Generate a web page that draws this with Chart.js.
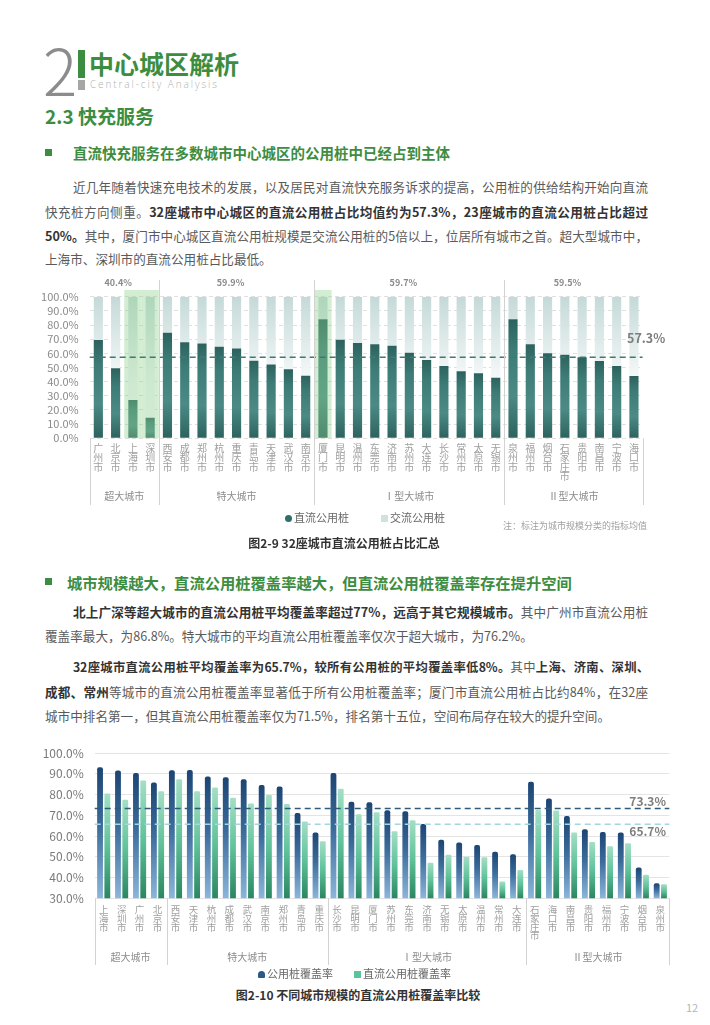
<!DOCTYPE html>
<html lang="zh-CN">
<head>
<meta charset="utf-8">
<title>中心城区解析 - 2.3 快充服务</title>
<script src="https://cdn.jsdelivr.net/npm/chart.js@4.4.1/dist/chart.umd.min.js"></script>
<style>
  html, body { margin: 0; padding: 0; background: #fff; }
  body { width: 710px; height: 1025px; position: relative; overflow: hidden;
         font-family: "Noto Sans CJK SC", "Noto Sans", sans-serif; color: #5a5a5a; }
  .abs { position: absolute; white-space: nowrap; }
  .line { position: absolute; font-size: 12.6px; line-height: 20px; height: 20px;
          text-align: justify; text-align-last: justify; }
  .line.last { text-align-last: left; }
  .line.tight { font-size: 12.3px; letter-spacing: -0.15px; }
  .line b { color: #333; font-weight: 700; }
  .green { color: #3d8d41; font-weight: 700; }
  .bullet { position: absolute; width: 7px; height: 7px; background: #3d8d41; }
  .caption { position: absolute; left: 0; width: 710px; text-align: center; font-size: 12px;
             font-weight: 700; color: #333; line-height: 16px; }
  .legend { position: absolute; font-size: 11px; color: #666; line-height: 14px; white-space: nowrap; }
  .legend i { display: inline-block; width: 7px; height: 7px; margin-right: 2px; vertical-align: 0; }
</style>
</head>
<body>

<!-- page header -->
<div class="abs" style="left:43px;top:28px;font-size:64px;line-height:80px;font-weight:200;color:#8c8c8c;">2</div>
<div class="abs" style="left:78px;top:50px;width:7px;height:28px;background:#3d8d41;"></div>
<div class="abs" style="left:78px;top:80px;width:7px;height:10px;background:#a6a6a6;"></div>
<div class="abs green" style="left:89px;top:46px;font-size:25px;line-height:34px;">中心城区解析</div>
<div class="abs" style="left:90px;top:77px;font-size:10px;line-height:14px;letter-spacing:1.9px;color:#b0b0b0;font-family:'Open Sans',sans-serif;font-weight:300;">Central-city Analysis</div>

<div class="abs green" style="left:45px;top:103px;font-size:19px;line-height:26px;">2.3 快充服务</div>

<div class="bullet" style="left:45px;top:149px;"></div>
<div class="abs green" style="left:73px;top:143px;font-size:14.5px;line-height:20px;">直流快充服务在多数城市中心城区的公用桩中已经占到主体</div>

<div class="line" style="left:73px;top:177px;width:575px;">近几年随着快速充电技术的发展，以及居民对直流快充服务诉求的提高，公用桩的供给结构开始向直流</div>
<div class="line" style="left:45px;top:202px;width:603px;">快充桩方向侧重。<b>32座城市中心城区的直流公用桩占比均值约为57.3%，23座城市的直流公用桩占比超过</b></div>
<div class="line" style="left:45px;top:226px;width:603px;"><b>50%。</b>其中，厦门市中心城区直流公用桩规模是交流公用桩的5倍以上，位居所有城市之首。超大型城市中，</div>
<div class="line last" style="left:45px;top:249px;width:603px;">上海市、深圳市的直流公用桩占比最低。</div>

<!-- chart 2-9 -->
<div class="abs" style="left:30px;top:270px;width:670px;height:270px;"><canvas id="shareChart"></canvas></div>
<div class="legend" style="left:285px;top:510px;"><i style="background:#2f6f6a;border-radius:50%;"></i>直流公用桩</div>
<div class="legend" style="left:381px;top:510px;"><i style="background:#cfe2df;"></i>交流公用桩</div>
<div class="abs" style="left:503px;top:520px;font-size:9px;line-height:12px;color:#a0a0a0;">注：标注为城市规模分类的指标均值</div>
<div class="caption" style="top:535px;left:-11px;">图2-9 32座城市直流公用桩占比汇总</div>

<div class="bullet" style="left:45px;top:578px;"></div>
<div class="abs green" style="left:67px;top:572px;font-size:15.3px;line-height:20px;">城市规模越大，直流公用桩覆盖率越大，但直流公用桩覆盖率存在提升空间</div>

<div class="line" style="left:73px;top:602px;width:575px;"><b>北上广深等超大城市的直流公用桩平均覆盖率超过77%，远高于其它规模城市。</b>其中广州市直流公用桩</div>
<div class="line last" style="left:45px;top:626px;width:603px;">覆盖率最大，为86.8%。特大城市的平均直流公用桩覆盖率仅次于超大城市，为76.2%。</div>
<div class="line tight" style="left:73px;top:657px;width:576px;"><b>32座城市直流公用桩平均覆盖率为65.7%，较所有公用桩的平均覆盖率低8%。</b>其中<b>上海、济南、深圳、</b></div>
<div class="line" style="left:45px;top:682px;width:603px;"><b>成都、常州</b>等城市的直流公用桩覆盖率显著低于所有公用桩覆盖率；厦门市直流公用桩占比约84%，在32座</div>
<div class="line last" style="left:45px;top:706px;width:603px;">城市中排名第一，但其直流公用桩覆盖率仅为71.5%，排名第十五位，空间布局存在较大的提升空间。</div>

<!-- chart 2-10 -->
<div class="abs" style="left:30px;top:735px;width:670px;height:235px;"><canvas id="coverChart"></canvas></div>
<div class="legend" style="left:258px;top:966px;"><i style="background:#2a5a86;border-radius:50% 50% 1px 1px;"></i>公用桩覆盖率</div>
<div class="legend" style="left:354px;top:966px;"><i style="background:#5cc49a;"></i>直流公用桩覆盖率</div>
<div class="caption" style="top:987px;left:3px;">图2-10 不同城市规模的直流公用桩覆盖率比较</div>
<div class="abs" style="left:686px;top:1000px;font-size:11px;line-height:14px;color:#b5b5b5;">12</div>

<script>
// ---- chart 2-9: 直流 / 交流 公用桩占比 ----
const cities1 = ['广州市', '北京市', '上海市', '深圳市',
  '西安市', '成都市', '郑州市', '杭州市', '重庆市', '青岛市', '天津市', '武汉市', '南京市',
  '厦门市', '昆明市', '温州市', '东莞市', '济南市', '苏州市', '大连市', '长沙市', '常州市', '太原市', '无锡市',
  '泉州市', '福州市', '烟台市', '石家庄市', '贵阳市', '南昌市', '宁波市', '海口市'];
const dcShare = [69.4, 49.4, 27.0, 14.6,
  74.6, 67.8, 67.0, 64.7, 63.5, 54.8, 52.2, 48.7, 44.2,
  84.0, 69.6, 67.3, 66.4, 65.4, 60.5, 55.3, 51.0, 47.3, 45.9, 42.8,
  84.0, 66.4, 60.0, 59.0, 57.2, 54.6, 51.0, 44.0];
const acShare = [30.6, 50.6, 73.0, 85.4,
  25.4, 32.2, 33.0, 35.3, 36.5, 45.2, 47.8, 51.3, 55.8,
  16.0, 30.4, 32.7, 33.6, 34.6, 39.5, 44.7, 49.0, 52.7, 54.1, 57.2,
  16.0, 33.6, 40.0, 41.0, 42.8, 45.4, 49.0, 56.0];
const groupNames = ['超大城市', '特大城市', 'Ⅰ型大城市', 'Ⅱ型大城市'];
const groupSizes = [4, 9, 11, 8];
const groupAvg1 = ['40.4%', '59.9%', '59.7%', '59.5%'];
const avgDc1 = 57.3;
const highlight1 = [2, 3, 13];

// ---- chart 2-10: 覆盖率 ----
const cities2 = ['上海市', '深圳市', '广州市', '北京市',
  '西安市', '天津市', '杭州市', '成都市', '武汉市', '南京市', '郑州市', '青岛市', '重庆市',
  '长沙市', '昆明市', '厦门市', '苏州市', '东莞市', '济南市', '无锡市', '太原市', '温州市', '常州市', '大连市',
  '石家庄市', '海口市', '南昌市', '贵阳市', '福州市', '宁波市', '烟台市', '泉州市'];
const pubCover = [93.2, 91.6, 90.4, 85.9,
  91.8, 91.9, 88.7, 88.4, 87.4, 84.6, 83.9, 71.1, 61.8,
  90.4, 76.6, 76.3, 72.5, 72.0, 65.9, 58.3, 56.9, 55.7, 52.4, 51.2,
  86.2, 78.2, 69.7, 63.3, 62.0, 61.7, 44.8, 37.3];
const dcCover = [80.5, 77.5, 86.8, 81.6,
  87.4, 81.6, 83.4, 78.5, 75.7, 79.8, 75.5, 67.1, 57.5,
  82.8, 70.5, 71.5, 62.4, 67.7, 47.2, 51.0, 50.1, 49.8, 38.1, 43.7,
  72.6, 72.3, 61.7, 57.2, 55.1, 56.5, 41.4, 36.8];
const avgPub2 = 73.3;
const avgDc2 = 65.7;

const FONT = '"Noto Sans CJK SC", "Noto Sans", sans-serif';
const pct = v => v.toFixed(1) + '%';

// gradient running from the bar's base up to its own top
function barGradient(stops) {
  return (c) => {
    const { chart, dataIndex, dataset } = c;
    const { ctx, chartArea, scales } = chart;
    if (!chartArea || dataIndex === undefined) return stops[stops.length - 1][1];
    const top = scales.y.getPixelForValue(dataset.data[dataIndex]);
    const g = ctx.createLinearGradient(0, chartArea.bottom, 0, Math.min(top, chartArea.bottom - 1));
    stops.forEach(([o, col]) => g.addColorStop(o, col));
    return g;
  };
}

function areaGradient(stops) {
  return (c) => {
    const { ctx, chartArea } = c.chart;
    if (!chartArea) return stops[stops.length - 1][1];
    const g = ctx.createLinearGradient(0, chartArea.bottom, 0, chartArea.top);
    stops.forEach(([o, col]) => g.addColorStop(o, col));
    return g;
  };
}

// highlight columns, average lines, group separators and group names
const groupsPlugin = {
  id: 'groups',
  afterDatasetsDraw(chart, args, o) {
    const { ctx, chartArea: a, scales: { x, y } } = chart;
    const half = (x.getPixelForValue(1) - x.getPixelForValue(0)) / 2;
    ctx.save();

    (o.highlight || []).forEach(i => {
      ctx.fillStyle = 'rgba(140,208,140,0.38)';
      ctx.fillRect(x.getPixelForValue(i) - half, o.hlTop, half * 2, a.bottom - o.hlTop);
    });

    (o.lines || []).forEach(l => {
      const py = y.getPixelForValue(l.value);
      ctx.strokeStyle = l.color;
      ctx.lineWidth = 1.5;
      ctx.setLineDash([6, 4]);
      ctx.beginPath(); ctx.moveTo(a.left, py); ctx.lineTo(a.right, py); ctx.stroke();
      ctx.setLineDash([]);
      ctx.fillStyle = '#7d7d7d';
      ctx.font = `bold ${l.size}px ${FONT}`;
      ctx.textAlign = l.align;
      ctx.textBaseline = 'middle';
      ctx.fillText(pct(l.value), l.x, py + l.dy);
    });

    ctx.strokeStyle = '#d2d2d2';
    ctx.lineWidth = 1;
    ctx.textAlign = 'center';
    ctx.textBaseline = 'middle';
    let start = 0;
    const edges = [];
    o.sizes.forEach((n, gi) => {
      const left = x.getPixelForValue(start) - half;
      const right = x.getPixelForValue(start + n - 1) + half;
      ctx.fillStyle = '#8c8c8c';
      ctx.font = `${o.labelSize}px ${FONT}`;
      ctx.fillText(o.names[gi], (left + right) / 2, o.labelY);
      if (o.avgs) {
        ctx.fillStyle = '#8a8a8a';
        ctx.font = `bold 9px ${FONT}`;
        ctx.fillText(o.avgs[gi], (left + right) / 2 - 6, o.avgY);
      }
      edges.push(left);
      if (gi === o.sizes.length - 1) edges.push(right);
      start += n;
    });
    edges.forEach((ex, i) => {
      const inner = i > 0 && i < edges.length - 1;
      const top = inner && o.sepTop != null ? o.sepTop : a.bottom;
      const px = Math.round(ex) + 0.5;
      ctx.beginPath(); ctx.moveTo(px, top); ctx.lineTo(px, o.lineBottom); ctx.stroke();
    });
    ctx.restore();
  }
};

new Chart(document.getElementById('shareChart'), {
  type: 'bar',
  plugins: [groupsPlugin],
  data: {
    labels: cities1,
    datasets: [
      { label: '直流公用桩', data: dcShare,
        backgroundColor: barGradient([[0, '#2d625e'], [0.35, '#4b8a85'], [0.75, '#3d7b76'], [1, '#2c625e']]) },
      { label: '交流公用桩', data: acShare,
        backgroundColor: areaGradient([[0, '#ffffff'], [0.45, '#f3f7f7'], [1, '#c4dad8']]) },
    ],
  },
  options: {
    responsive: true, maintainAspectRatio: false, animation: false,
    layout: { padding: { top: 26.7, right: 57.4, left: 0, bottom: 0 } },
    datasets: { bar: { categoryPercentage: 1, barPercentage: 0.53 } },
    scales: {
      x: {
        stacked: true,
        grid: { display: false, drawTicks: false },
        border: { display: false },
        ticks: { autoSkip: false, maxRotation: 0, padding: 5, color: '#a0a0a0',
                 font: { family: FONT, size: 10, lineHeight: 0.95 },
                 callback: (v, i) => cities1[i].split('') },
        afterFit: s => { s.height = 101.7; },
      },
      y: {
        stacked: true, min: 0, max: 100,
        grid: { color: '#e0e0e0', drawTicks: false },
        border: { display: false, dash: [4, 3] },
        ticks: { autoSkip: false, stepSize: 10, padding: 11, color: '#8a8a8a',
                 font: { family: FONT, size: 11 }, callback: v => pct(v) },
        afterFit: s => { s.width = 59.7; },
      },
    },
    plugins: {
      legend: { display: false },
      tooltip: { enabled: false },
      groups: {
        names: groupNames, sizes: groupSizes, avgs: groupAvg1, avgY: 13,
        labelY: 226, labelSize: 10, lineBottom: 235, sepTop: 10,
        highlight: highlight1, hlTop: 20,
        lines: [{ value: avgDc1, color: '#3e7a70', x: 597, dy: -19, align: 'left', size: 12.5 }],
      },
    },
  },
});

new Chart(document.getElementById('coverChart'), {
  type: 'bar',
  plugins: [groupsPlugin],
  data: {
    labels: cities2,
    datasets: [
      { label: '公用桩覆盖率', data: pubCover, borderRadius: 2, borderSkipped: 'bottom',
        backgroundColor: barGradient([[0, '#8cb6da'], [0.55, '#3b6c9c'], [1, '#1c4573']]) },
      { label: '直流公用桩覆盖率', data: dcCover, borderRadius: 1, borderSkipped: 'bottom',
        backgroundColor: barGradient([[0, '#2a8660'], [0.5, '#5fc29a'], [1, '#a4dfc6']]) },
    ],
  },
  options: {
    responsive: true, maintainAspectRatio: false, animation: false,
    layout: { padding: { top: 10, right: 30.7, left: 0, bottom: 0 } },
    datasets: { bar: { categoryPercentage: 0.81, barPercentage: 0.8 } },
    scales: {
      x: {
        grid: { display: false, drawTicks: false },
        border: { display: false },
        ticks: { autoSkip: false, maxRotation: 0, padding: 7, color: '#a0a0a0',
                 font: { family: FONT, size: 9.5, lineHeight: 0.92 },
                 callback: (v, i) => cities2[i].split('') },
        afterFit: s => { s.height = 71.7; },
      },
      y: {
        min: 30, max: 100,
        grid: { color: '#e4e4e4', drawTicks: false },
        border: { display: false },
        ticks: { autoSkip: false, stepSize: 10, padding: 11, color: '#7a7a7a',
                 font: { family: FONT, size: 12 }, callback: v => pct(v) },
        afterFit: s => { s.width = 64.7; },
      },
    },
    plugins: {
      legend: { display: false },
      tooltip: { enabled: false },
      groups: {
        names: groupNames, sizes: groupSizes,
        labelY: 222.5, labelSize: 10, lineBottom: 230,
        lines: [
          { value: avgPub2, color: '#2f5a7c', x: 636, dy: -7, align: 'right', size: 12 },
          { value: avgDc2, color: '#a3d6de', x: 636, dy: 7, align: 'right', size: 12 },
        ],
      },
    },
  },
});
</script>
</body>
</html>
